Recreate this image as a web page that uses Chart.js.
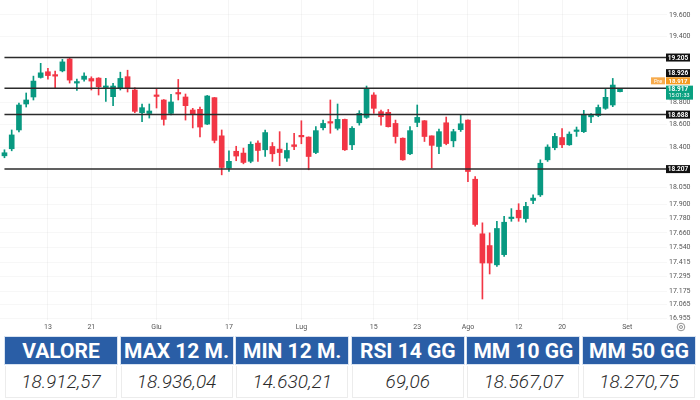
<!DOCTYPE html>
<html><head><meta charset="utf-8">
<script src="https://cdn.jsdelivr.net/npm/chart.js@4.4.1/dist/chart.umd.min.js"></script>
<style>
html,body{margin:0;padding:0;background:#fff;width:700px;height:400px;overflow:hidden;font-family:Roboto,"Liberation Sans",sans-serif}
#wrap{position:absolute;left:0;top:0;width:700px;height:336px}
#tbl{position:absolute;left:5px;top:337px;width:690px;display:grid;grid-template-columns:repeat(6,1fr);column-gap:3.6px;row-gap:2px}
.h{background:#2a5ea6;color:#fff;font-weight:700;font-size:21px;height:27px;line-height:28px;text-align:center;white-space:nowrap;box-shadow:0 0 0 1px #d8e3f1}
.v{height:31px;line-height:32px;text-align:center;font-style:italic;font-weight:300;font-size:19px;color:#2b2b2b;border:1px solid #ececec;border-top:none;white-space:nowrap}
</style></head>
<body>
<div id="wrap"><canvas id="c"></canvas></div>
<div id="tbl"></div>
<script>
// ---- data ----
const dates = [
 '2024-05-03','2024-05-06','2024-05-07','2024-05-08','2024-05-09','2024-05-10','2024-05-13','2024-05-14','2024-05-15','2024-05-16','2024-05-17',
 '2024-05-20','2024-05-21','2024-05-22','2024-05-23','2024-05-24','2024-05-27','2024-05-28','2024-05-29','2024-05-30','2024-05-31',
 '2024-06-03','2024-06-04','2024-06-05','2024-06-06','2024-06-07','2024-06-10','2024-06-11','2024-06-12','2024-06-13','2024-06-14',
 '2024-06-17','2024-06-18','2024-06-19','2024-06-20','2024-06-21','2024-06-24','2024-06-25','2024-06-26','2024-06-27','2024-06-28',
 '2024-07-01','2024-07-02','2024-07-03','2024-07-04','2024-07-05','2024-07-08','2024-07-09','2024-07-10','2024-07-11','2024-07-12',
 '2024-07-15','2024-07-16','2024-07-17','2024-07-18','2024-07-19','2024-07-22','2024-07-23','2024-07-24','2024-07-25','2024-07-26',
 '2024-07-29','2024-07-30','2024-07-31','2024-08-01','2024-08-02','2024-08-05','2024-08-06','2024-08-07','2024-08-08','2024-08-09',
 '2024-08-12','2024-08-13','2024-08-14','2024-08-15','2024-08-16','2024-08-19','2024-08-20','2024-08-21','2024-08-22','2024-08-23',
 '2024-08-26','2024-08-27','2024-08-28','2024-08-29','2024-08-30'];
const open = [18323,18385,18551,18783,18846,19023,19075,19044,19083,19192,18972,19006,19013,19017,18932,18849,18930,19030,18909,18705,18698,
 18864,18819,18699,18882,18846,18729,18735,18603,18840,18499,18216,18363,18347,18275,18435,18376,18405,18382,18303,18420,
 18496,18488,18352,18571,18618,18566,18645,18420,18615,18663,18864,18714,18708,18609,18478,18341,18618,18633,18499,18405,
 18615,18455,18554,18639,18119,17652,17553,17392,17477,17781,17852,17781,17936,17984,18288,18394,18484,18420,18538,18536,
 18668,18680,18744,18774,18894];
const high = [18376,18551,18792,18882,19035,19152,19107,19080,19188,19206,19008,19065,19029,19021,19014,18969,19071,19089,18930,18783,18783,
 18922,18823,18870,19005,18873,18744,18756,18860,18842,18551,18367,18407,18391,18446,18455,18551,18440,18536,18435,18522,
 18633,18490,18580,18639,18819,18783,18648,18580,18723,18945,18885,18729,18734,18639,18481,18580,18774,18635,18499,18560,
 18666,18557,18688,18642,18142,17745,17660,17758,17801,17866,17908,17919,17984,18288,18420,18521,18563,18534,18577,18726,
 18697,18774,18924,19014,18922];
const low = [18306,18367,18534,18756,18819,19017,19008,18930,19074,18972,18905,18990,18909,18864,18805,18768,18909,18891,18705,18624,18657,
 18747,18594,18684,18819,18639,18569,18490,18599,18437,18157,18186,18280,18253,18262,18274,18317,18274,18236,18274,18376,
 18429,18201,18341,18551,18522,18551,18370,18376,18594,18654,18699,18594,18577,18435,18284,18332,18580,18449,18216,18341,
 18420,18402,18538,18098,17716,17110,17316,17378,17462,17758,17758,17750,17908,17970,18274,18376,18394,18415,18494,18528,
 18617,18669,18735,18759,18891];
const close = [18350,18507,18774,18819,18990,19065,19040,19035,19165,18999,18981,19035,18990,18939,18940,18945,19014,18927,18717,18750,18720,
 18851,18645,18801,18873,18768,18693,18577,18855,18459,18221,18275,18321,18265,18424,18370,18528,18341,18352,18370,18405,
 18490,18317,18545,18609,18612,18645,18376,18566,18699,18924,18744,18669,18580,18493,18288,18545,18663,18493,18415,18536,
 18431,18536,18606,18186,17731,17407,17407,17697,17750,17790,17787,17885,17956,18258,18400,18494,18420,18514,18545,18688,
 18675,18752,18843,18954,18917];
const levels = [19205, 18926, 18688, 18207];
const lastPrice = 18917;
const countdown = '15:01:33';
const preLabel = 'Pre';
const yTicks = [19600,19400,18800,18600,18400,18050,17900,17780,17660,17540,17415,17295,17175,17065,16955];
const xTickLabels = ['13','21','Giu','17','Lug','15','23','Ago','12','20','Set'];
const xTickIndex  = [7,13,22,32,42,52,58,65,72,78,87];
const tableHeaders = ['VALORE','MAX 12 M.','MIN 12 M.','RSI 14 GG','MM 10 GG','MM 50 GG'];
const tableValues  = ['18.912,57','18.936,04','14.630,21','69,06','18.567,07','18.270,75'];

// ---- rendering ----
const UP = '#089981', DOWN = '#f23645';
const fmt = v => Math.round(v).toString().replace(/\B(?=(\d{3})+(?!\d))/g, '.');
const colors = dates.map((d, i) => close[i] >= open[i] ? UP : DOWN);
const X_MIN = 0.384, X_MAX = 92.49, Y_MIN = 16939, Y_MAX = 19741;

const tbl = document.getElementById('tbl');
tableHeaders.forEach(h => { const d = document.createElement('div'); d.className = 'h'; d.textContent = h; tbl.appendChild(d); });
tableValues.forEach(v => { const d = document.createElement('div'); d.className = 'v'; d.textContent = v; tbl.appendChild(d); });

const priceBoxes = {
  id: 'priceBoxes',
  afterDraw(chart) {
    const { ctx, chartArea, scales: { y } } = chart;
    const x0 = chartArea.right - 1;
    ctx.save();
    ctx.textBaseline = 'middle';
    ctx.textAlign = 'center';
    const shift = { 18926: -15 };
    levels.forEach(l => {
      const py = y.getPixelForValue(l) + (shift[l] || 0);
      ctx.fillStyle = '#111';
      ctx.fillRect(x0, py - 4, 24, 8);
      ctx.fillStyle = '#fff';
      ctx.font = 'bold 6.5px Roboto, sans-serif';
      ctx.fillText(fmt(l), x0 + 12, py + 0.5);
    });
    const pp = y.getPixelForValue(lastPrice);
    // orange pre-market label
    const oy = pp - 8.3;
    ctx.fillStyle = '#f7ab4d';
    ctx.fillRect(x0 - 15, oy - 3.5, 14, 7);
    ctx.fillStyle = '#f59c22';
    ctx.fillRect(x0, oy - 3.5, 24, 7);
    ctx.fillStyle = '#fff';
    ctx.font = '5.5px Roboto, sans-serif';
    ctx.fillText(preLabel, x0 - 8, oy + 0.3);
    ctx.font = 'bold 6px Roboto, sans-serif';
    ctx.fillText(fmt(lastPrice), x0 + 12, oy + 0.3);
    // teal last price label
    ctx.fillStyle = '#0aa181';
    ctx.fillRect(x0, pp - 3.5, 27, 14);
    ctx.fillStyle = '#fff';
    ctx.font = 'bold 6.5px Roboto, sans-serif';
    ctx.fillText(fmt(lastPrice), x0 + 12, pp + 0.5);
    ctx.font = '5.5px Roboto, sans-serif';
    ctx.fillText(countdown, x0 + 13, pp + 6.5);
    // settings icon
    const ix = chartArea.right + 14, iy = chartArea.bottom + 7;
    ctx.strokeStyle = '#777'; ctx.lineWidth = 0.8;
    ctx.beginPath(); ctx.arc(ix, iy, 3.8, 0, Math.PI * 2); ctx.stroke();
    ctx.beginPath(); ctx.arc(ix, iy, 1.5, 0, Math.PI * 2); ctx.stroke();
    ctx.restore();
  }
};

const idxOf = i => i + 1;
const datasets = [
  ...levels.map(l => ({
    type: 'line', data: [{ x: 1, y: l }, { x: X_MAX, y: l }],
    borderColor: '#2b2b2b', borderWidth: 1.5, pointRadius: 0, order: 0
  })),
  {
    type: 'bar', data: dates.map((d, i) => ({ x: idxOf(i), y: [open[i], close[i]] })),
    backgroundColor: colors, barThickness: 5, minBarLength: 1.5, grouped: false, order: 1
  },
  {
    type: 'bar', data: dates.map((d, i) => ({ x: idxOf(i), y: [low[i], high[i]] })),
    backgroundColor: colors, barThickness: 1, grouped: false, order: 2
  }
];

new Chart(document.getElementById('c'), {
  type: 'bar',
  data: { datasets },
  plugins: [priceBoxes],
  options: {
    responsive: true, maintainAspectRatio: false, animation: false,
    layout: { padding: 0 },
    plugins: { legend: { display: false }, tooltip: { enabled: false } },
    scales: {
      x: {
        type: 'linear', min: X_MIN, max: X_MAX, offset: false,
        grid: { color: 'rgba(0,0,0,0.04)', drawTicks: false, offset: false },
        border: { display: false },
        afterBuildTicks: s => { s.ticks = xTickIndex.map(v => ({ value: v })); },
        afterFit: s => { s.height = 16; s.paddingLeft = 0; s.paddingRight = 0; },
        ticks: {
          autoSkip: false, maxRotation: 0, padding: 3, color: '#555',
          font: { size: 7, family: 'Roboto' },
          callback: v => { const k = xTickIndex.indexOf(v); return k >= 0 ? xTickLabels[k] : ''; }
        }
      },
      y: {
        type: 'logarithmic', position: 'right', min: Y_MIN, max: Y_MAX, bounds: 'data', beginAtZero: false,
        grid: { color: 'rgba(0,0,0,0.03)', drawTicks: false },
        border: { display: false },
        afterBuildTicks: s => { s.ticks = yTicks.map(v => ({ value: v })); },
        afterFit: s => { s.width = 33; s.paddingTop = 0; s.paddingBottom = 0; },
        ticks: {
          autoSkip: false, padding: 2, color: '#555',
          font: { size: 7, family: 'Roboto' },
          callback: v => fmt(v)
        }
      }
    }
  }
});
</script>
</body></html>
